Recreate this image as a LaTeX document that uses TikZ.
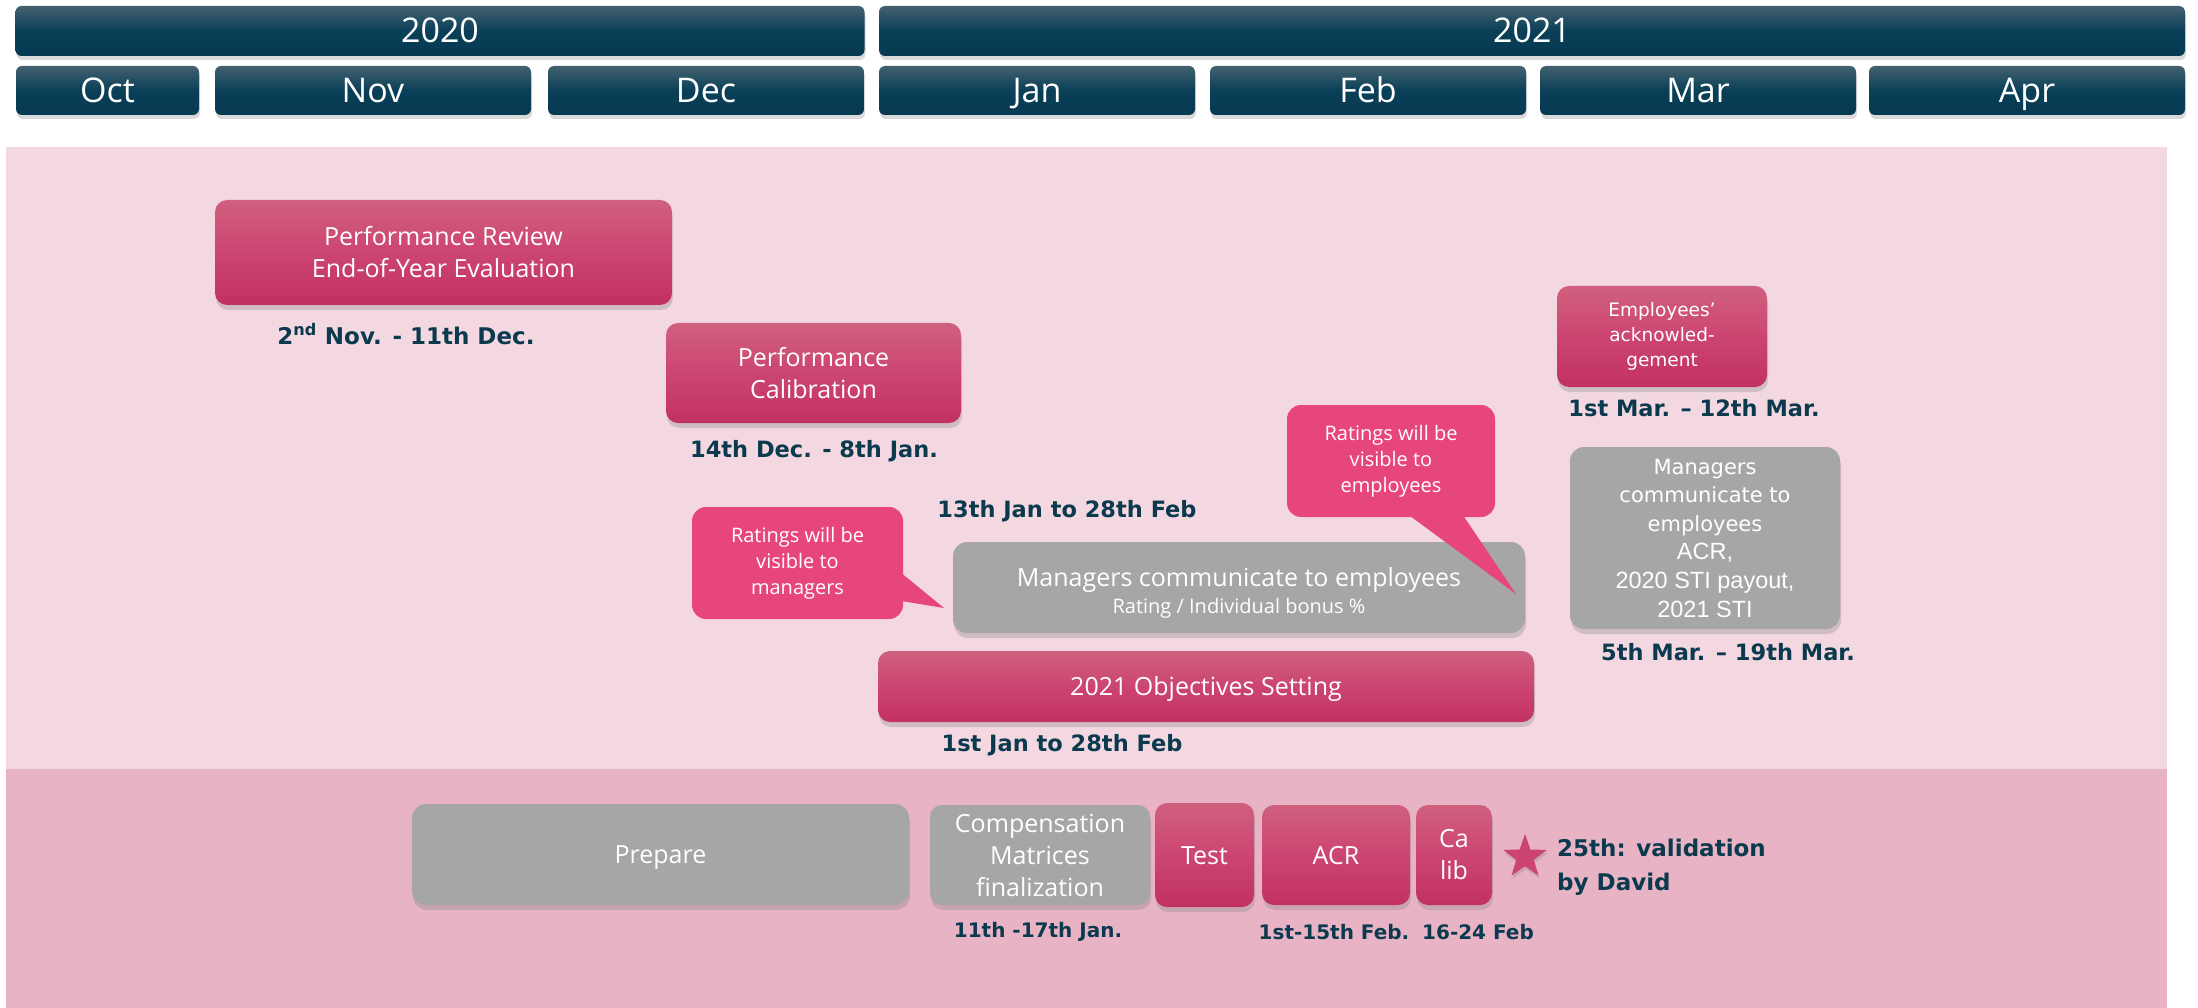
\documentclass[tikz,border=0pt]{standalone}
\usepackage{fontspec}
\setmainfont{Open Sans}
\newfontfamily\dvs{DejaVu Sans}
\newfontfamily\lib{Liberation Sans}
\usetikzlibrary{shadows,shapes.geometric}
\definecolor{hdrTop}{HTML}{43616F}
\definecolor{hdrMid}{HTML}{0A3F58}
\definecolor{hdrBot}{HTML}{063A52}
\definecolor{bgUp}{HTML}{F3D8E1}
\definecolor{bgLow}{HTML}{E8B4C5}
\definecolor{pinkTop}{HTML}{D0607F}
\definecolor{pinkMid}{HTML}{CC4571}
\definecolor{pinkBot}{HTML}{C13162}
\definecolor{grayC}{HTML}{A6A6A6}
\definecolor{callC}{HTML}{E6467A}
\definecolor{dateC}{HTML}{0B3A4E}
\tikzset{
  hdr/.style={rounded corners=6pt, top color=hdrTop, bottom color=hdrBot, middle color=hdrMid,
    text=white, inner sep=0pt, font=\fontsize{34}{40}\selectfont, text height=27pt, text depth=3pt,
    drop shadow={opacity=0.3, shadow xshift=1pt, shadow yshift=-4pt}},
  pinkbox/.style={rounded corners=12pt, top color=pinkTop, bottom color=pinkBot, middle color=pinkMid,
    text=white, align=center, inner sep=0pt, font=\fontsize{25}{32}\selectfont,
    drop shadow={opacity=0.3, shadow xshift=1pt, shadow yshift=-5pt}},
  graybox/.style={rounded corners=14pt, fill=grayC, text=white, align=center, inner sep=0pt,
    font=\fontsize{25}{32}\selectfont,
    drop shadow={opacity=0.3, shadow xshift=1pt, shadow yshift=-5pt}},
  oneline/.style={text height=22pt, text depth=4pt},
  callbox/.style={rounded corners=14pt, fill=callC, text=white, align=center, inner sep=0pt,
    font=\fontsize{20}{26}\selectfont},
  datelbl/.style={text=dateC, inner sep=0pt, align=center, font=\dvs\bfseries\fontsize{22.5}{26}\selectfont},
  smalldate/.style={text=dateC, inner sep=0pt, font=\dvs\bfseries\fontsize{20}{24}\selectfont},
}
\begin{document}
\begin{tikzpicture}[x=1pt,y=-1pt]
\useasboundingbox (0,0) rectangle (2198,1008);
% backgrounds
\fill[bgUp] (6,147) rectangle (2167,769);
\fill[bgLow] (6,769) rectangle (2167,1008);
% header
\node[hdr, minimum width=849, minimum height=50] (y2020) at (440,31) {2020};
\node[hdr, minimum width=1306, minimum height=50] (y2021) at (1532,31) {2021};
\node[hdr, minimum width=183, minimum height=49] (mOct) at (107.5,90.5) {Oct};
\node[hdr, minimum width=316, minimum height=49] (mNov) at (373,90.5) {Nov};
\node[hdr, minimum width=316, minimum height=49] (mDec) at (706,90.5) {Dec};
\node[hdr, minimum width=316, minimum height=49] (mJan) at (1037,90.5) {Jan};
\node[hdr, minimum width=316, minimum height=49] (mFeb) at (1368,90.5) {Feb};
\node[hdr, minimum width=316, minimum height=49] (mMar) at (1698,90.5) {Mar};
\node[hdr, minimum width=316, minimum height=49] (mApr) at (2027,90.5) {Apr};
% upper area
\node[pinkbox, minimum width=457, minimum height=105] (pr) at (443.5,252.5) {Performance Review\\End-of-Year Evaluation};
\node[datelbl, font=\dvs\bfseries\fontsize{23}{26}\selectfont] (prDate) at (406,334) {2\textsuperscript{nd} Nov. - 11th Dec.};
\node[pinkbox, minimum width=295, minimum height=100] (cal) at (813.5,373) {Performance\\Calibration};
\node[datelbl] (calDate) at (814,451) {14th Dec. - 8th Jan.};
\node[pinkbox, minimum width=210, minimum height=101, font=\dvs\fontsize{18.5}{25}\selectfont] (ack) at (1662,336.5) {Employees’\\acknowled-\\gement};
\node[datelbl] (ackDate) at (1694,408) {1st Mar. – 12th Mar.};
\node[graybox, minimum width=270, minimum height=182, font=\dvs\fontsize{21}{28.6}\selectfont] (mgr2) at (1705,538)
  {Managers\\communicate to\\employees\\{\lib\fontsize{23.5}{28.6}\selectfont ACR,}\\{\lib\fontsize{23.5}{28.6}\selectfont 2020 STI payout,}\\{\lib\fontsize{23.5}{28.6}\selectfont 2021 STI}};
\node[datelbl] (mgr2Date) at (1728,652) {5th Mar. – 19th Mar.};
% callout employees
\node[callbox, minimum width=208, minimum height=112] (ce) at (1391,461) {Ratings will be\\visible to\\employees};
\coordinate (ceTip) at (1516,594);
\node[datelbl] (midDate) at (1067,511) {13th Jan to 28th Feb};
\node[graybox, minimum width=572, minimum height=91] (mg) at (1239,587.5) {};
\node[text=white, align=center, inner sep=0pt, font=\fontsize{25}{30}\selectfont] (mgT) at (1239,593)
  {Managers communicate to employees\\[-3pt]{\fontsize{20}{24}\selectfont Rating / Individual bonus \%}};
% callout managers
\node[callbox, minimum width=211, minimum height=112] (cm) at (797.5,563) {Ratings will be\\visible to\\managers};
\coordinate (cmTip) at (944,608);
\fill[callC] ([xshift=-2pt,yshift=-10pt]cm.east) -- (cmTip) -- ([xshift=-2pt,yshift=-38pt]cm.east) -- cycle;
\fill[callC] ([xshift=18pt,yshift=2pt]ce.south) -- (ceTip) -- ([xshift=72pt,yshift=2pt]ce.south) -- cycle;
\node[pinkbox, oneline, minimum width=656, minimum height=71] (obj) at (1206,686.5) {2021 Objectives Setting};
\node[datelbl] (objDate) at (1062,745) {1st Jan to 28th Feb};
% lower area
\node[graybox, oneline, minimum width=497, minimum height=101] (prep) at (660.5,854.5) {Prepare};
\node[graybox, minimum width=220, minimum height=100, rounded corners=12pt] (comp) at (1040,855) {Compensation\\Matrices\\finalization};
\node[pinkbox, oneline, minimum width=99, minimum height=104] (test) at (1204.5,855) {Test};
\node[pinkbox, oneline, minimum width=148, minimum height=100] (acr) at (1336,855) {ACR};
\node[pinkbox, minimum width=76, minimum height=100] (calib) at (1454,855) {Ca\\lib};
\node[star, star points=5, star point ratio=2.5, minimum size=46, inner sep=0pt, fill=pinkMid,
  drop shadow={opacity=0.3, shadow xshift=1pt, shadow yshift=-3pt}] (star) at (1525,857) {};
\node[datelbl, anchor=west, align=left, font=\dvs\bfseries\fontsize{23}{34}\selectfont] (val) at (1557,867) {25th: validation\\by David};
\node[smalldate] (compDate) at (1038,932) {11th -17th Jan.};
\node[smalldate] (acrDate) at (1334,932) {1st-15th Feb.};
\node[smalldate] (calibDate) at (1478,932) {16-24 Feb};
\end{tikzpicture}
\end{document}
